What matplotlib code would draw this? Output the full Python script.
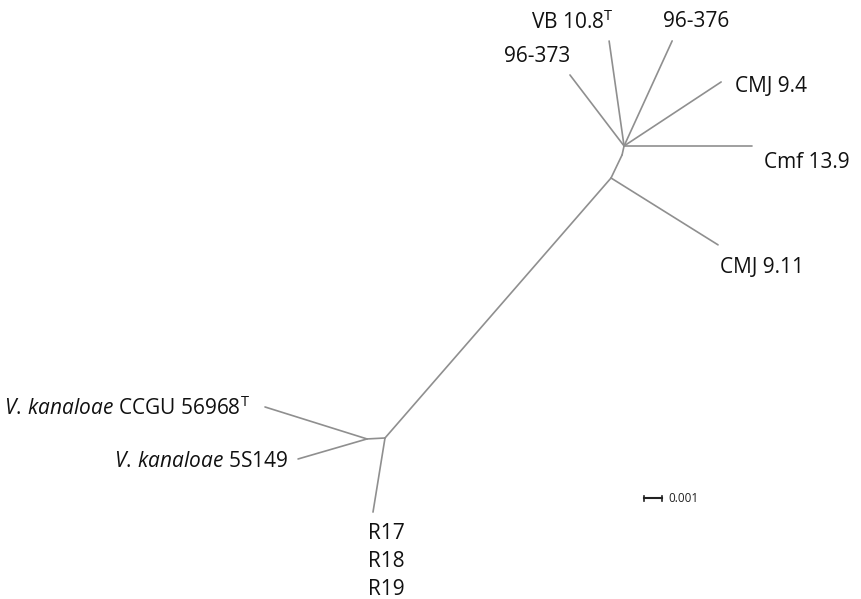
import numpy as np
import matplotlib.pyplot as plt

# -----------------------------
# TREE (unrooted, branch lengths in substitutions/site)
# -----------------------------
# parent, child, length, angle (deg)
parents = ["R", "K", "K", "R", "R", "M", "M", "N1", "N", "N", "N", "N", "N"]
children = ["K", "CCGU", "5S149", "R17", "M", "CMJ911", "N1", "N",
            "Cmf139", "CMJ94", "96376", "VB108", "96373"]
lengths = [0.00100, 0.00594, 0.00399, 0.00417, 0.01914, 0.00701, 0.00142,
           0.00051, 0.00711, 0.00646, 0.00642, 0.00589, 0.00496]
angles = [183.0, 162.6, 196.2, 260.8, 49.0, -32.0, 64.4, 77.5,
          0.0, 33.4, 65.4, 98.1, 127.3]

labels = {
    "CCGU": r"$\mathit{V.\,kanaloae}$ CCGU 56968$^{\mathrm{T}}$",
    "5S149": r"$\mathit{V.\,kanaloae}$ 5S149",
    "R17": "R17\nR18\nR19",
    "CMJ911": "CMJ 9.11",
    "Cmf139": "Cmf 13.9",
    "CMJ94": "CMJ 9.4",
    "96376": "96-376",
    "VB108": r"VB 10.8$^{\mathrm{T}}$",
    "96373": "96-373",
}
scale_len = 0.001

# label placement: (dx px, dy px, ha, va)
label_pos = {
    "CCGU": (-15, -1, "right", "center"),
    "5S149": (-10, -3, "right", "center"),
    "R17": (13, -11, "center", "top"),
    "CMJ911": (2, -23, "left", "center"),
    "Cmf139": (12, -17, "left", "center"),
    "CMJ94": (14, -5, "left", "center"),
    "96376": (24, 19, "center", "center"),
    "VB108": (-37, 19, "center", "center"),
    "96373": (0, 18, "right", "center"),
}

plt.rcParams["font.family"] = ["Open Sans", "DejaVu Sans"]
plt.rcParams["mathtext.fontset"] = "custom"
plt.rcParams["mathtext.rm"] = "Open Sans"
plt.rcParams["mathtext.it"] = "Open Sans:italic"

# -----------------------------
# LAYOUT
# -----------------------------
pos = {"R": np.array([0.0, 0.0])}
for p, c, L, a in zip(parents, children, lengths, angles):
    t = np.deg2rad(a)
    pos[c] = pos[p] + L * np.array([np.cos(t), np.sin(t)])

W, H = 861, 599
px = scale_len / 18.0          # data units per pixel
root_px = (385, 438)

fig = plt.figure(figsize=(W / 100, H / 100), dpi=100)
ax = fig.add_axes([0, 0, 1, 1])
ax.set_xlim(-root_px[0] * px, (W - root_px[0]) * px)
ax.set_ylim(-(H - root_px[1]) * px, root_px[1] * px)
ax.axis("off")

line_kw = dict(color="#8f8f8f", lw=1.2, solid_capstyle="round")
for p, c in zip(parents, children):
    ax.plot([pos[p][0], pos[c][0]], [pos[p][1], pos[c][1]], **line_kw)

for key, txt in labels.items():
    dx, dy, ha, va = label_pos[key]
    ax.annotate(txt, pos[key], xytext=(dx, dy), textcoords="offset pixels",
                ha=ha, va=va, fontsize=15, color="#111111",
                linespacing=1.45)

# scale bar
sx, sy = 259 * px, -60 * px
ax.plot([sx, sx + scale_len], [sy, sy], color="#222222", lw=1.5)
for xx in (sx, sx + scale_len):
    ax.plot([xx, xx], [sy - 2.5 * px, sy + 2.5 * px], color="#222222", lw=1.2)
ax.annotate("0.001", (sx + scale_len, sy), xytext=(6, 0),
            textcoords="offset pixels", ha="left", va="center",
            fontsize=8.5, color="#222222")

fig.savefig("out.png", dpi=100)
